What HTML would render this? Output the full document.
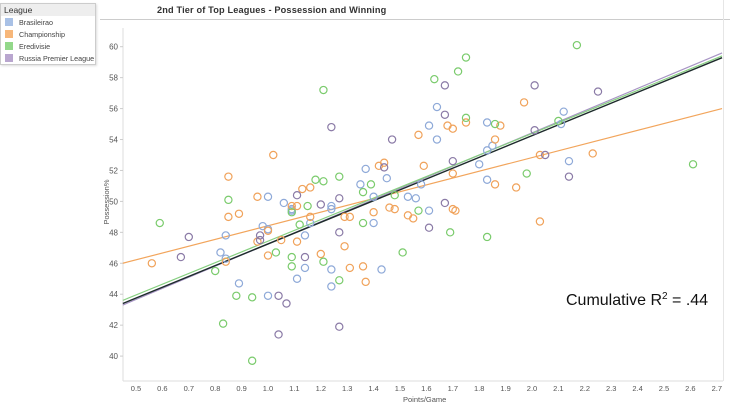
<!DOCTYPE html>
<html><head><meta charset="utf-8"><style>
body{margin:0;background:#fff;font-family:"Liberation Sans",sans-serif;}
#wrap{position:relative;width:730px;height:410px;overflow:hidden;}
#legend{position:absolute;left:0;top:3px;width:94px;height:60px;border:1px solid #ccc;background:#fff;font-size:7.2px;color:#444;box-shadow:1px 1px 2px #ddd;white-space:nowrap;overflow:hidden;}
#legend .hd{background:#eee;padding:2px 3px;font-size:8.5px;color:#333;height:8px;line-height:8px;}
#legend .it{display:flex;align-items:center;height:12px;padding-left:4px;}
#legend .sw{width:8px;height:8px;margin-right:6px;flex:none;}
#title{position:absolute;left:157px;top:5px;font-size:9.2px;font-weight:bold;color:#333;letter-spacing:0.15px;white-space:nowrap;}
#tline{position:absolute;left:100px;top:19px;width:630px;height:1px;background:#ccc;}
</style></head><body>
<div id="wrap">
<div id="legend">
<div class="hd">League</div>
<div class="it"><span class="sw" style="background:#a9c1e6"></span>Brasileirao</div>
<div class="it"><span class="sw" style="background:#f7b77a"></span>Championship</div>
<div class="it"><span class="sw" style="background:#93d88a"></span>Eredivisie</div>
<div class="it"><span class="sw" style="background:#b9a6cf"></span>Russia Premier League</div>
</div>
<div id="title">2nd Tier of Top Leagues - Possession and Winning</div>
<div id="tline"></div>
<svg id="svg" width="730" height="410" style="position:absolute;left:0;top:0"></svg>
</div>
<script>
const xTicks=[0.5,0.6,0.7,0.8,0.9,1.0,1.1,1.2,1.3,1.4,1.5,1.6,1.7,1.8,1.9,2.0,2.1,2.2,2.3,2.4,2.5,2.6,2.7];
const yTicks=[40,42,44,46,48,50,52,54,56,58,60];
const brasX=[0.82,0.84,0.84,0.89,1.0,0.98,1.0,1.11,1.14,1.14,1.16,1.24,1.24,1.40,1.43,1.61,1.0,1.06,1.09,1.09,1.24,1.24,1.35,1.37,1.40,1.45,1.53,1.56,1.64,1.61,1.83,1.64,2.12,2.11,1.85,1.83,1.80,2.14,1.83,1.58];
const brasY=[46.7,46.3,47.8,44.7,43.9,48.4,48.2,45.0,47.8,45.7,48.6,45.6,44.5,48.6,45.6,49.4,50.3,49.9,49.5,49.4,49.7,49.5,51.1,52.1,50.3,51.5,50.3,50.2,56.1,54.9,55.1,54.0,55.8,55.0,53.6,53.3,52.4,52.6,51.4,51.1];
const champX=[0.56,0.84,0.85,0.89,0.85,0.96,1.0,1.0,1.05,1.11,1.2,1.29,1.31,1.36,1.37,1.53,1.55,1.71,2.03,1.02,0.96,1.09,1.11,1.13,1.16,1.16,1.42,1.44,1.46,1.48,1.57,1.68,1.70,1.75,1.88,1.86,1.97,2.23,1.59,1.70,1.86,1.94,1.70,2.03,1.29,1.31,1.40];
const champY=[46.0,46.1,49.0,49.2,51.6,47.4,48.1,46.5,47.5,47.4,46.6,47.1,45.7,45.8,44.8,49.1,48.9,49.4,48.7,53.0,50.3,49.7,49.7,50.8,50.9,49.0,52.3,52.5,49.6,49.5,54.3,54.9,54.7,55.1,54.9,54.0,56.4,53.1,52.3,51.8,51.1,50.9,49.5,53.0,49.0,49.0,49.3];
const eredX=[0.59,0.80,0.85,0.88,0.83,0.94,0.94,1.03,1.09,1.09,1.12,1.21,1.27,1.36,1.51,1.57,1.69,1.83,1.21,1.15,1.18,1.21,1.27,1.39,1.36,1.48,2.17,1.75,1.72,1.63,1.75,1.86,2.10,2.61,1.98,1.09];
const eredY=[48.6,45.5,50.1,43.9,42.1,39.7,43.8,46.7,46.4,45.8,48.5,46.1,44.9,48.6,46.7,49.4,48.0,47.7,57.2,49.7,51.4,51.3,51.6,51.1,50.6,50.4,60.1,59.3,58.4,57.9,55.4,55.0,55.2,52.4,51.8,49.3];
const rusX=[0.70,0.67,1.04,1.07,1.04,0.97,0.97,1.14,1.27,1.27,1.61,1.24,1.11,1.20,1.27,1.47,1.44,1.67,2.01,2.25,1.67,2.01,2.05,1.70,2.14,1.67];
const rusY=[47.7,46.4,43.9,43.4,41.4,47.8,47.5,46.4,41.9,48.0,48.3,54.8,50.4,49.8,50.2,54.0,52.2,57.5,57.5,57.1,55.6,54.6,53.0,52.6,51.6,49.9];
const trendSlopes=[4.405,7.18,6.96,7.0];
const trendIntercepts=[44.02,40.07,40.47,40.25];
const trendColors=['#f2a55c','#a794c4','#86cf80','#1d2b2b'];
const NS='http://www.w3.org/2000/svg';
const svg=document.getElementById('svg');
const X0=0.45,X1=2.72;
function sx(v){return 136+(v-0.5)*264;}
function sy(v){return 46.7+(60-v)*15.47;}
function mk(t,a,p){const e=document.createElementNS(NS,t);for(const k in a)e.setAttribute(k,a[k]);(p||svg).appendChild(e);return e;}
let ax=mk('line',{x1:123,y1:28,x2:123,y2:381,stroke:'#ddd'});


let bx=mk('line',{x1:123,y1:381,x2:723,y2:381,stroke:'#ddd'});


let rb=mk('line',{x1:723.5,y1:0,x2:723.5,y2:381,stroke:'#e6e6e6'});


yTicks.forEach(v=>{
 const t=mk('text',{x:118,y:sy(v)+3,'text-anchor':'end','font-size':'8',fill:'#555','font-family':'Liberation Sans'});t.textContent=v;
 
 
 mk('line',{x1:120,y1:sy(v),x2:123,y2:sy(v),stroke:'#ccc'});
});
xTicks.forEach(v=>{
 const t=mk('text',{x:sx(v),y:391,'text-anchor':'middle','font-size':'7.5',fill:'#555','font-family':'Liberation Sans'});t.textContent=v.toFixed(1);
 
 
});
let xt=mk('text',{x:403,y:402,'font-size':'7.5',fill:'#555','font-family':'Liberation Sans'});xt.textContent='Points/Game';


let yt=mk('text',{x:0,y:0,'font-size':'7.5',fill:'#555','font-family':'Liberation Sans','text-anchor':'middle',transform:'translate(109,202) rotate(-90)'});yt.textContent='Possession%';


trendSlopes.forEach((m,i)=>{
 const b=trendIntercepts[i];
 const l=mk('line',{x1:sx(X0),y1:sy(m*X0+b),x2:sx(X1),y2:sy(m*X1+b),stroke:trendColors[i],'stroke-width':i==3?1.4:1.2});
 
 
});
function series(xs,ys,c,name){
 xs.forEach((x,i)=>{
  const p=mk('circle',{cx:sx(x),cy:sy(ys[i]),r:3.6,fill:'none',stroke:c,'stroke-width':1.2});
  
  
 });
}
series(brasX,brasY,'#8ea9d8','point-brasileirao');
series(champX,champY,'#f0a25a','point-championship');
series(eredX,eredY,'#7acb6c','point-eredivisie');
series(rusX,rusY,'#8a7aa6','point-russia');
let r2=mk('text',{x:566,y:305,'font-size':'16',fill:'#111','font-family':'Liberation Sans'});
r2.innerHTML='Cumulative R<tspan dy="-6" font-size="10">2</tspan><tspan dy="6"> = .44</tspan>';


</script>
</body></html>
